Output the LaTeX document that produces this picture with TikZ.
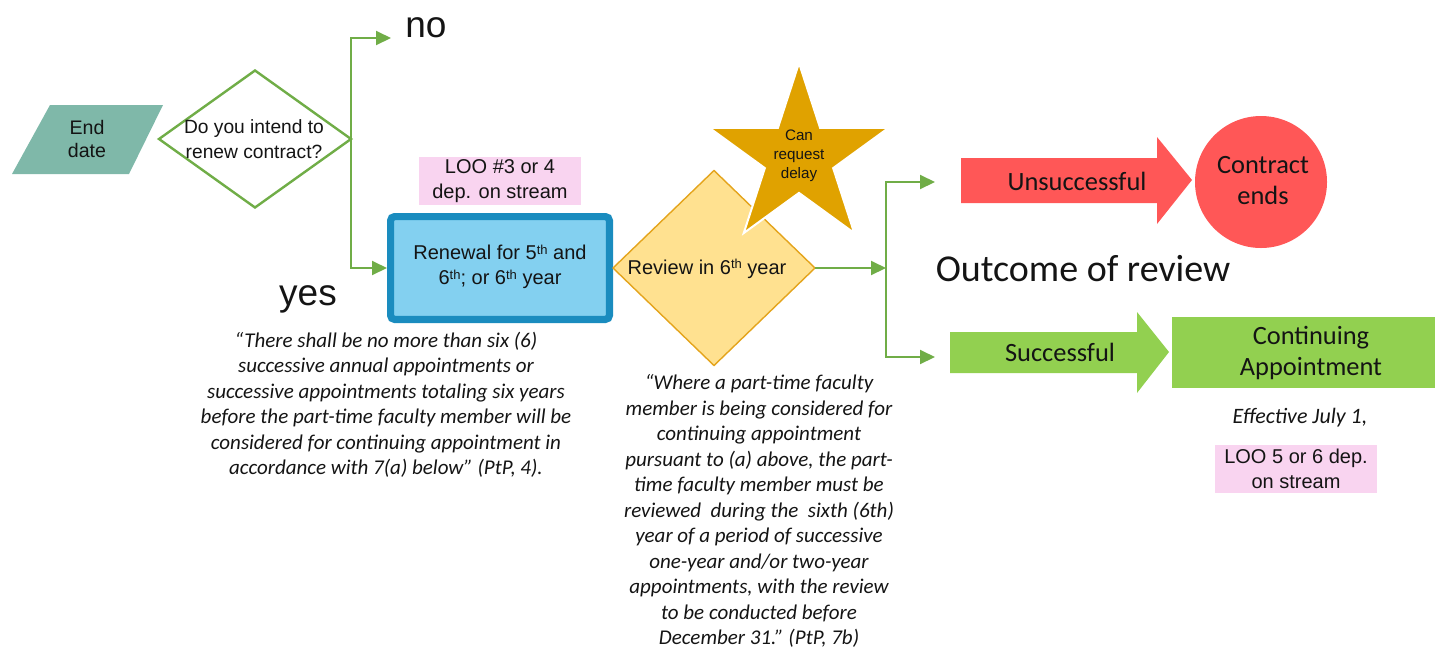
\documentclass[tikz,border=0pt]{standalone}
\usepackage{fontspec}
\setmainfont{Carlito}
\newfontfamily\fgfont{Liberation Sans}
\usetikzlibrary{shapes.geometric,arrows.meta}
\definecolor{tealc}{HTML}{7FB8A9}
\definecolor{glinec}{HTML}{70AD47}
\definecolor{renfill}{HTML}{83D0F0}
\definecolor{renborder}{HTML}{1A8CBF}
\definecolor{revfill}{HTML}{FFE190}
\definecolor{revborder}{HTML}{E4A41C}
\definecolor{starc}{HTML}{E0A200}
\definecolor{redc}{HTML}{FF5757}
\definecolor{greenc}{HTML}{92D050}
\definecolor{pinkc}{HTML}{F9D4F0}
\definecolor{textc}{HTML}{141414}
\newcommand\suptxt[1]{\raisebox{2.6pt}{\fontsize{6.5}{7}\selectfont #1}}
\begin{document}
\begin{tikzpicture}[x=0.5pt,y=-0.5pt,
  every node/.style={text=textc},
  fg/.style={font=\fgfont\fontsize{10}{12.5}\selectfont, align=center},
  conn/.style={glinec, line width=1pt, -{Triangle[length=7.5pt,width=7pt]}},
  quotetxt/.style={font=\itshape\fontsize{10.5}{12.75}\selectfont, align=center},
  cal/.style={font=\fontsize{13.2}{15.5}\selectfont, align=center},
  bigtxt/.style={font=\fgfont\fontsize{18.5}{22}\selectfont},
  pinkbox/.style={fill=pinkc, inner sep=0pt, minimum height=24pt}
]
\useasboundingbox (0,0) rectangle (1435,649);

% End date parallelogram
\fill[tealc] (50,105) -- (163,105) -- (129,174) -- (12,174) -- cycle;
\node[fg, font=\fgfont\fontsize{9.8}{11.5}\selectfont] (enddate) at (87,139) {End\\date};

% Question diamond
\node[diamond, draw=glinec, line width=1.2pt, fill=white, minimum width=96pt, minimum height=68.5pt, inner sep=0pt, outer sep=0pt] (q) at (255,139) {};
\node[fg, font=\fgfont\fontsize{9.6}{12.5}\selectfont] (qt) at (254,139) {Do you intend to\\renew contract?};

% no / yes
\coordinate (noend) at (391,38);
\draw[conn] (q.east) |- (noend);
\node[bigtxt, anchor=base] (no) at (426,37) {no};
\node[bigtxt, anchor=base] (yes) at (308,305) {yes};

% LOO 3
\node[pinkbox, fg, minimum width=81pt] (loo3) at (500,181) {LOO \#3 or 4\\dep. on stream};

% Renewal box
\node[draw=renborder, fill=renfill, line width=3.6pt, rounded corners=2pt, minimum width=109.4pt, minimum height=51.4pt, inner sep=0pt] (ren) at (500,268) {};
\node[fg] (rent) at (500,267) {Renewal for 5\suptxt{th} and\\6\suptxt{th}; or 6\suptxt{th} year};
\draw[conn] (q.east) |- (ren.west);

% Review diamond
\node[diamond, draw=revborder, fill=revfill, line width=0.7pt, minimum width=101pt, minimum height=97.5pt, inner sep=0pt, outer sep=0pt] (rev) at (714,268) {};
\node[fg, anchor=base] (revt) at (707,274) {Review in 6\suptxt{th} year};

% Star
\node[star, star points=5, star point ratio=2.618, minimum size=94pt, fill=starc, draw=white, line width=1pt, inner sep=0pt] (star) at (799,157) {};
\node[fg, font=\fgfont\fontsize{7.6}{9.5}\selectfont] (start) at (799,156) {Can\\request\\delay};

% Junction and branches
\coordinate (jn) at (886,268);
\coordinate (uend) at (935,182);
\coordinate (send) at (935,357);
\draw[conn] (rev.east) -- (jn);
\draw[conn] (jn) |- (uend);
\draw[conn] (jn) |- (send);

% Unsuccessful arrow
\fill[redc] (961,158) -- (1157,158) -- (1157,137) -- (1192,180) -- (1157,224) -- (1157,203) -- (961,203) -- cycle;
\node[cal] (uns) at (1077,181) {Unsuccessful};

% Contract ends
\node[circle, fill=redc, minimum size=66pt, inner sep=0pt] (ce) at (1261,182) {};
\node[cal] (cet) at (1263,181) {Contract\\ends};

% Outcome of review
\node[font=\fontsize{19}{22}\selectfont, anchor=base] (outc) at (1083,281) {Outcome of review};

% Successful arrow
\fill[greenc] (950,332) -- (1137,332) -- (1137,312) -- (1169,352) -- (1137,393) -- (1137,373) -- (950,373) -- cycle;
\node[cal] (suc) at (1060,352) {Successful};

% Continuing appointment
\node[fill=greenc, minimum width=131.5pt, minimum height=35.5pt, inner sep=0pt] (ca) at (1303.5,352.5) {};
\node[cal] (cat) at (1311,353) {Continuing\\Appointment};

% Effective & LOO 5
\node[font=\itshape\fontsize{11}{12}\selectfont, anchor=base] (eff) at (1300,423) {Effective July 1,};
\node[pinkbox, fg, font=\fgfont\fontsize{10}{12.5}\selectfont, minimum width=81pt] (loo5) at (1296,469) {LOO 5 or 6 dep.\\on stream};

% Quotes
\node[quotetxt] (q1) at (386,405) {\textquotedblleft There shall be no more than six (6)\\successive annual appointments or\\successive appointments totaling six years\\before the part-time faculty member will be\\considered for continuing appointment in\\accordance with 7(a) below\textquotedblright\ (PtP, 4).};
\node[quotetxt] (q2) at (759,511) {\textquotedblleft Where a part-time faculty\\member is being considered for\\continuing appointment\\pursuant to (a) above, the part-\\time faculty member must be\\reviewed\ \ during the\ \ sixth (6th)\\year of a period of successive\\one-year and/or two-year\\appointments, with the review\\to be conducted before\\December 31.\textquotedblright\ (PtP, 7b)};
\end{tikzpicture}
\end{document}
